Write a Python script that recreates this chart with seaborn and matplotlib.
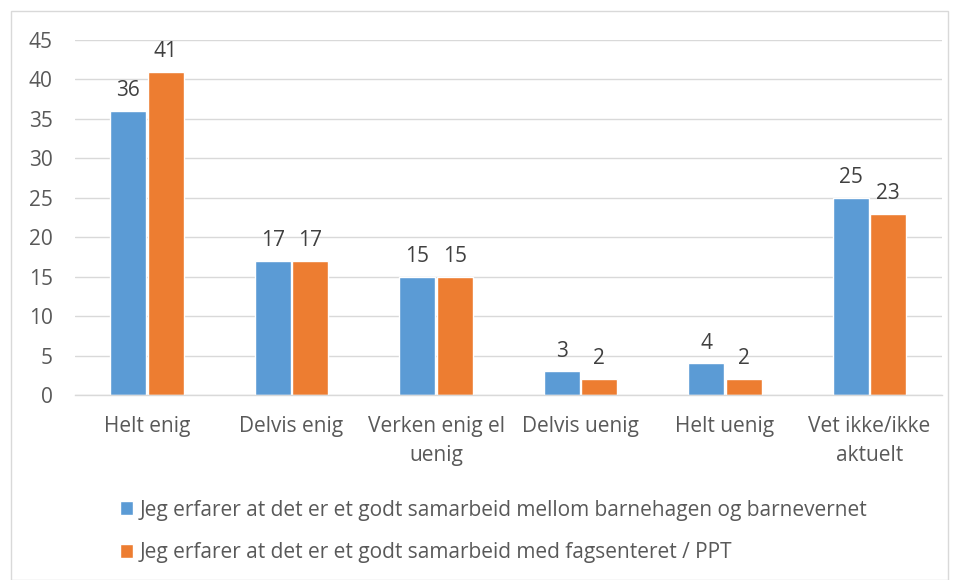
import matplotlib
matplotlib.use("Agg")
import matplotlib.pyplot as plt
import seaborn as sns
import pandas as pd
from matplotlib.patches import Rectangle

categories = ["Helt enig", "Delvis enig", "Verken enig el\nuenig", "Delvis uenig",
              "Helt uenig", "Vet ikke/ikke\naktuelt"]
series_names = ["Jeg erfarer at det er et godt samarbeid mellom barnehagen og barnevernet",
                "Jeg erfarer at det er et godt samarbeid med fagsenteret / PPT"]
barnevernet = [36, 17, 15, 3, 4, 25]
ppt = [41, 17, 15, 2, 2, 23]
yticks = [0, 5, 10, 15, 20, 25, 30, 35, 40, 45]

df = pd.DataFrame({
    "kategori": categories * 2,
    "serie": [series_names[0]] * 6 + [series_names[1]] * 6,
    "verdi": barnevernet + ppt,
})

sns.set_theme(style="white")
plt.rcParams["font.family"] = ["Open Sans", "DejaVu Sans"]
grey = "#595959"
fs = 15

fig = plt.figure(figsize=(9.59, 5.8), dpi=100)
ax = fig.add_axes([0.078, 0.319, 0.904, 0.612])

sns.barplot(data=df, x="kategori", y="verdi", hue="serie",
            palette=["#5b9bd5", "#ed7d31"], width=0.52, gap=0.05,
            saturation=1, ax=ax, legend=True)

for cont in ax.containers:
    ax.bar_label(cont, padding=7, fontsize=fs, color="#404040")

ax.set_ylim(0, 45)
ax.set_yticks(yticks)
ax.yaxis.grid(True, color="#d9d9d9", linewidth=1)
ax.set_axisbelow(True)
for s in ["left", "right", "top"]:
    ax.spines[s].set_visible(False)
ax.spines["bottom"].set_color("#d9d9d9")
ax.spines["bottom"].set_linewidth(1)
ax.tick_params(axis="both", length=0, labelsize=fs, colors=grey)
ax.tick_params(axis="x", pad=15)
ax.tick_params(axis="y", pad=16)
for t in ax.get_xticklabels():
    t.set_linespacing(1.5)
ax.set_xlabel("")
ax.set_ylabel("")

handles, labels = ax.get_legend_handles_labels()
ax.get_legend().remove()
fig.legend(handles, labels, loc="upper left", bbox_to_anchor=(0.116, 0.153),
           frameon=False, fontsize=fs, labelcolor=grey, handlelength=0.65,
           handleheight=0.65, handletextpad=0.3, labelspacing=1.05,
           borderaxespad=0)

fig.patches.append(Rectangle((11 / 959, 0), 937 / 959, 569 / 580,
                             transform=fig.transFigure, fill=False,
                             edgecolor="#d9d9d9", linewidth=1))

fig.savefig("out.png", dpi=100)
